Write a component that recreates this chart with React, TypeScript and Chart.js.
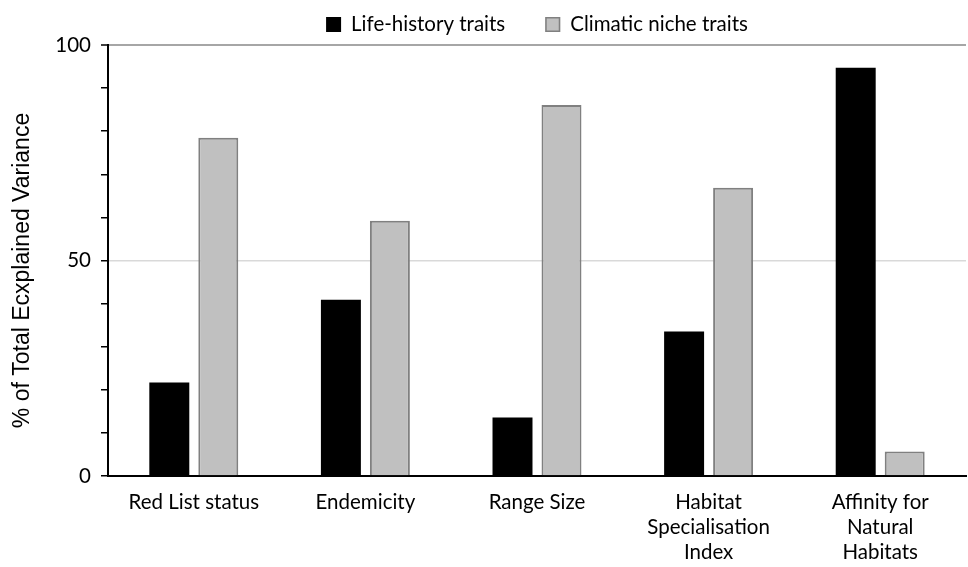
import React, { useEffect, useRef } from "react";
import { Chart, registerables } from "chart.js";

Chart.register(...registerables);

const categories: string[][] = [
  ["Red List status"],
  ["Endemicity"],
  ["Range Size"],
  ["Habitat", "Specialisation", "Index"],
  ["Affinity for", "Natural", "Habitats"],
];
const lifeHistory = [21.7, 40.9, 13.6, 33.5, 94.7];
const climaticNiche = [78.5, 59.2, 86.1, 66.9, 5.7];
const seriesNames = ["Life-history traits", "Climatic niche traits"];
const yLabelTicks = [0, 50, 100];
const yTitle = "% of Total Ecxplained Variance";

const FONT = "Lato, 'Open Sans', sans-serif";
const TITLE_FONT = "'Liberation Sans', Arial, sans-serif";
const FS = 20.5;

const legendPlugin = {
  id: "customLegend",
  afterDraw(chart: any) {
    const ctx = chart.ctx as CanvasRenderingContext2D;
    const { left, right } = chart.chartArea;
    ctx.save();
    ctx.font = `${FS}px ${FONT}`;
    const box = 15;
    const gapText = 10;
    const gapItem = 40;
    const items = chart.data.datasets.map((ds: any) => ({
      label: ds.label,
      fill: ds.backgroundColor,
      stroke: ds.borderColor,
      bw: ds.borderWidth,
    }));
    const widths = items.map(
      (it: any) => box + gapText + ctx.measureText(it.label).width
    );
    const total =
      widths.reduce((a: number, b: number) => a + b, 0) +
      gapItem * (items.length - 1);
    let x = (left + right) / 2 - total / 2;
    const cy = 24.5;
    items.forEach((it: any, i: number) => {
      ctx.fillStyle = it.fill;
      ctx.fillRect(x, cy - box / 2, box, box);
      if (it.bw) {
        ctx.strokeStyle = it.stroke;
        ctx.lineWidth = 1.5;
        ctx.strokeRect(x + 0.75, cy - box / 2 + 0.75, box - 1.5, box - 1.5);
      }
      ctx.fillStyle = "#000";
      ctx.textBaseline = "middle";
      ctx.textAlign = "left";
      ctx.fillText(it.label, x + box + gapText, cy);
      x += widths[i] + gapItem;
    });

    // y-axis title
    const { top, bottom } = chart.chartArea;
    ctx.font = `23px ${TITLE_FONT}`;
    ctx.translate(23, (top + bottom) / 2 + 10);
    ctx.rotate(-Math.PI / 2);
    ctx.textAlign = "center";
    ctx.textBaseline = "middle";
    ctx.fillStyle = "#000";
    ctx.fillText(yTitle, 0, 0);
    ctx.restore();
  },
};

export default function App() {
  const ref = useRef<HTMLCanvasElement | null>(null);
  useEffect(() => {
    if (!ref.current) return;
    const chart = new Chart(ref.current, {
      type: "bar",
      data: {
        labels: categories,
        datasets: [
          {
            label: seriesNames[0],
            data: lifeHistory,
            backgroundColor: "#000000",
            borderColor: "#000000",
            borderWidth: 0,
            categoryPercentage: 0.571,
            barPercentage: 0.816,
          },
          {
            label: seriesNames[1],
            data: climaticNiche,
            backgroundColor: "#c0c0c0",
            borderColor: "#808080",
            borderWidth: 2,
            categoryPercentage: 0.571,
            barPercentage: 0.816,
          },
        ],
      },
      options: {
        responsive: false,
        animation: false,
        devicePixelRatio: 1,
        layout: { padding: { top: 45, right: 2, left: 0, bottom: 0 } },
        plugins: {
          legend: { display: false },
          tooltip: { enabled: false },
        },
        scales: {
          x: {
            grid: { display: false, drawTicks: false },
            border: { display: true, color: "#000", width: 2 },
            ticks: {
              color: "#000",
              font: { family: FONT, size: FS, lineHeight: 1.22 },
              padding: 14,
              maxRotation: 0,
              autoSkip: false,
            },
            afterFit: (s: any) => {
              s.height = 91;
            },
          },
          y: {
            min: 0,
            max: 100,
            ticks: {
              stepSize: 10,
              autoSkip: false,
              color: "#000",
              font: { family: FONT, size: FS },
              padding: 10,
              callback: (v: any) =>
                yLabelTicks.includes(Number(v)) ? String(v) : "",
            },
            grid: {
              color: (c: any) =>
                c.tick && c.tick.value === 100
                  ? "#a6a6a6"
                  : c.tick && c.tick.value === 50
                  ? "#d9d9d9"
                  : "rgba(0,0,0,0)",
              lineWidth: (c: any) =>
                c.tick && c.tick.value === 100 ? 2 : 1.5,
              tickColor: "#000",
              tickLength: 7,
              tickWidth: 1.5,
            },
            border: { color: "#000", width: 2 },
            title: { display: false },
            afterFit: (s: any) => {
              s.width = 108;
            },
          },
        },
      },
      plugins: [legendPlugin],
    });
    return () => chart.destroy();
  }, []);
  return (
    <div style={{ position: "absolute", left: 0, top: 0, width: 968, height: 567, background: "#fff" }}>
      <canvas ref={ref} width={968} height={567} />
    </div>
  );
}
